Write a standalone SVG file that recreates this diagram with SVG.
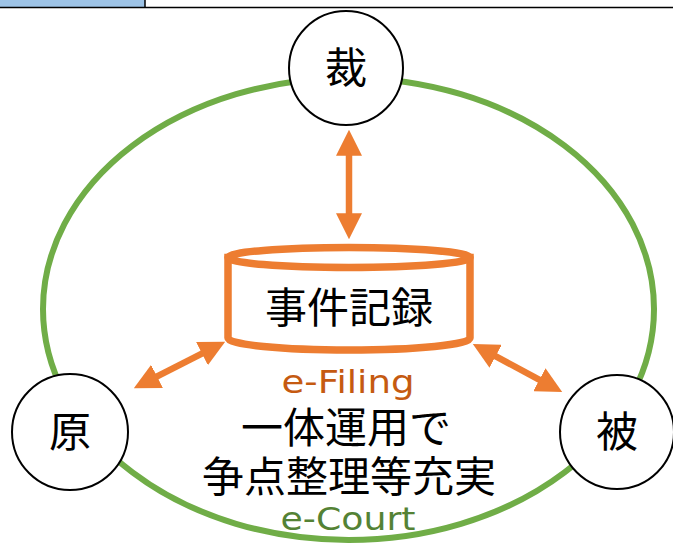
<svg xmlns="http://www.w3.org/2000/svg" width="673" height="544" viewBox="0 0 673 544">
<style>
.node{fill:#fff;stroke:#000;stroke-width:2}
.jp{font-family:"Noto Sans CJK JP","Noto Sans",sans-serif;font-size:42px;fill:#000;text-anchor:middle}
.lat{font-family:"DejaVu Sans","Noto Sans",sans-serif;font-size:32px;text-anchor:middle}
.arr{stroke:#ED7D31;stroke-width:6.5;fill:none;marker-start:url(#ah);marker-end:url(#ah)}
</style>
<defs>
<marker id="ah" viewBox="0 0 4 4" refX="1.5" refY="2" markerWidth="4" markerHeight="4" orient="auto-start-reverse" markerUnits="strokeWidth">
<path d="M0,0 L4,2 L0,4 z" fill="#ED7D31"/>
</marker>
</defs>
<rect width="673" height="544" fill="#fff"/>
<g id="topbar">
<rect x="0" y="0" width="145" height="7" fill="#9DC3E6"/>
<line x1="0" y1="7.5" x2="673" y2="7.5" stroke="#000" stroke-width="1.5"/>
<line x1="145" y1="0" x2="145" y2="7.5" stroke="#000" stroke-width="1.5"/>
</g>
<g id="ecourt">
<ellipse cx="348.5" cy="309" rx="305.5" ry="231" fill="none" stroke="#70AD47" stroke-width="6"/>
</g>
<g id="connectors">
<line class="arr" x1="349" y1="146" x2="349" y2="223"/>
<line class="arr" x1="148.3" y1="380.8" x2="210.7" y2="349.2"/>
<line class="arr" x1="487.1" y1="351.6" x2="547.9" y2="384.4"/>
</g>
<g id="node-sai">
<circle class="node" cx="346" cy="68" r="57"/>
<text class="jp" x="346" y="83">裁</text>
</g>
<g id="node-gen">
<circle class="node" cx="70" cy="432" r="58"/>
<text class="jp" x="70" y="447">原</text>
</g>
<g id="node-hi">
<circle class="node" cx="617" cy="432" r="57"/>
<text class="jp" x="617" y="447">被</text>
</g>
<g id="node-record">
<path d="M228,257.5 L228,338 A121,12 0 0 0 470,338 L470,257.5 Z" fill="#fff" stroke="#ED7D31" stroke-width="7.5"/>
<ellipse cx="349" cy="257.5" rx="121" ry="10" fill="#fff" stroke="#ED7D31" stroke-width="7.5"/>
<text class="jp" x="349" y="323">事件記録</text>
</g>
<g id="labels">
<text class="lat" x="348" y="393" fill="#C55A11" textLength="133" lengthAdjust="spacingAndGlyphs">e-Filing</text>
<text class="jp" x="346" y="443">一体運用で</text>
<text class="jp" x="349" y="492">争点整理等充実</text>
<text class="lat" x="348" y="530" fill="#548235" textLength="135" lengthAdjust="spacingAndGlyphs">e-Court</text>
</g>
</svg>
